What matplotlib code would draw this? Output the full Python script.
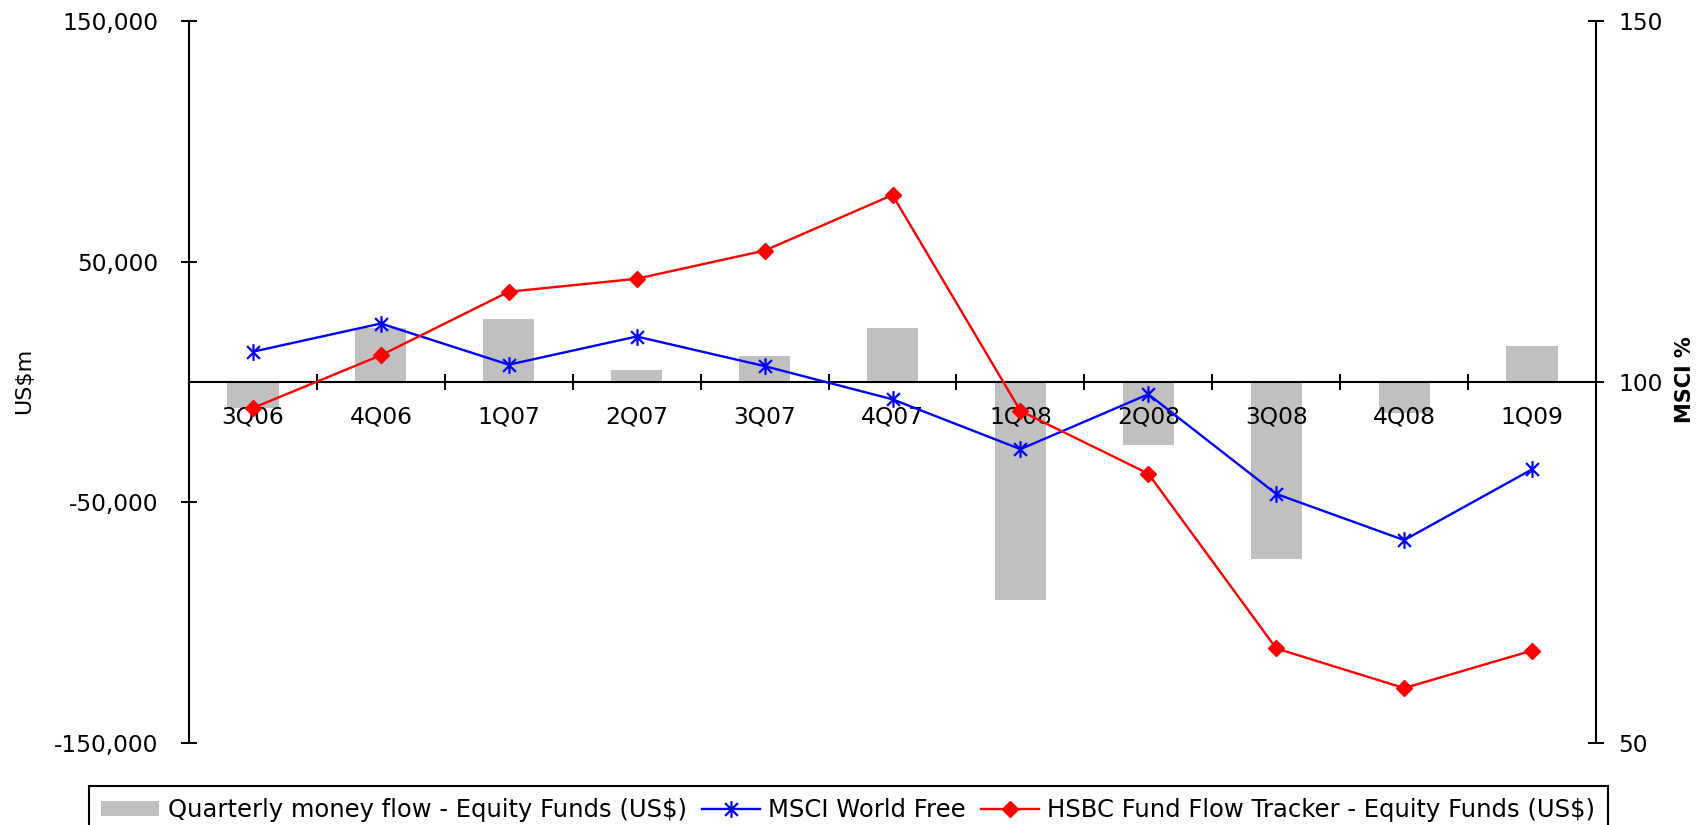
import numpy as np
import matplotlib
matplotlib.use("Agg")
import matplotlib.pyplot as plt
from matplotlib.path import Path
from matplotlib.ticker import FuncFormatter

plt.rcParams['font.family'] = ['DejaVu Sans']

categories = ['3Q06', '4Q06', '1Q07', '2Q07', '3Q07', '4Q07',
              '1Q08', '2Q08', '3Q08', '4Q08', '1Q09']
flows = [-11000, 22500, 26000, 5000, 11000, 22500,
         -90500, -26000, -73500, -13000, 15000]
msci = [104.2, 108.1, 102.4, 106.3, 102.2, 97.6,
        90.7, 98.3, 84.5, 78.1, 87.9]
hsbc = [96.4, 103.7, 112.5, 114.3, 118.2, 125.9,
        96.0, 87.3, 63.1, 57.6, 62.8]
left_ticks = [-150000, -50000, 50000, 150000]
right_ticks = [50, 100, 150]
labels = ['Quarterly money flow - Equity Funds (US$)', 'MSCI World Free',
          'HSBC Fund Flow Tracker - Equity Funds (US$)']

W, H = 1707, 825
fig = plt.figure(figsize=(W / 100, H / 100), dpi=100)
ax = fig.add_axes([189 / W, 1 - 743 / H, (1596 - 189) / W, (743 - 21) / H])
ax.set_axisbelow(False)

x = np.arange(len(categories))
bars = ax.bar(x, flows, width=0.4, color='#C0C0C0', zorder=2, label=labels[0])
ax.set_xlim(-0.5, len(categories) - 0.5)
ax.set_ylim(-150000, 150000)

# star marker: x plus vertical bar
star = Path([(-1, -1), (1, 1), (-1, 1), (1, -1), (0, -1.3), (0, 1.3)],
            [Path.MOVETO, Path.LINETO, Path.MOVETO, Path.LINETO, Path.MOVETO, Path.LINETO])

ax2 = ax.twinx()
l1, = ax2.plot(x, msci, color='#0000FF', lw=1.7, marker=star, ms=12, mew=1.6,
               label=labels[1], zorder=3)
l2, = ax2.plot(x, hsbc, color='#FF0000', lw=1.7, marker='D', ms=8, mew=1,
               label=labels[2], zorder=3)
ax2.set_ylim(50, 150)
ax2.set_xlim(-0.5, len(categories) - 0.5)

# spines
for s in ['top', 'right']:
    ax.spines[s].set_visible(False)
ax.spines['bottom'].set_position(('data', 0))
ax.spines['bottom'].set_linewidth(1.5)
ax.spines['left'].set_linewidth(1.5)
for s in ['top', 'left', 'bottom']:
    ax2.spines[s].set_visible(False)
ax2.spines['right'].set_linewidth(1.5)

# x ticks: boundaries (major) and category labels (minor)
ax.set_xticks(np.arange(-0.5, len(categories), 1))
ax.set_xticklabels([])
ax.set_xticks(x, minor=True)
ax.set_xticklabels(categories, minor=True)
ax.tick_params(axis='x', which='major', direction='inout', length=12, width=1.4)
ax.tick_params(axis='x', which='minor', length=0, pad=17, labelsize=16.8)

ax.set_yticks(left_ticks)
ax.yaxis.set_major_formatter(FuncFormatter(lambda v, p: f'{int(v):,}'))
ax.tick_params(axis='y', direction='inout', length=12, width=1.4, pad=16, labelsize=16.8)

ax2.set_yticks(right_ticks)
ax2.tick_params(axis='y', direction='inout', length=12, width=1.4, pad=10, labelsize=16.8)

fig.text(24 / W, 1 - 381 / H, 'US$m', rotation=90, ha='center', va='center', fontsize=16)
fig.text(1685 / W, 1 - 380 / H, 'MSCI %', rotation=90, ha='center', va='center',
         fontsize=15, fontweight='bold')

leg = fig.legend([bars, l1, l2], labels, loc='upper left',
                 bbox_to_anchor=(89 / W, 1 - 786 / H), ncol=3, frameon=True,
                 fancybox=False, edgecolor='black', framealpha=1, borderaxespad=0,
                 fontsize=17.5, handlelength=2.4, handleheight=0.6, handletextpad=0.35,
                 columnspacing=0.6, borderpad=0.5)
leg.get_frame().set_linewidth(1.5)

fig.savefig('out.png', dpi=100)
